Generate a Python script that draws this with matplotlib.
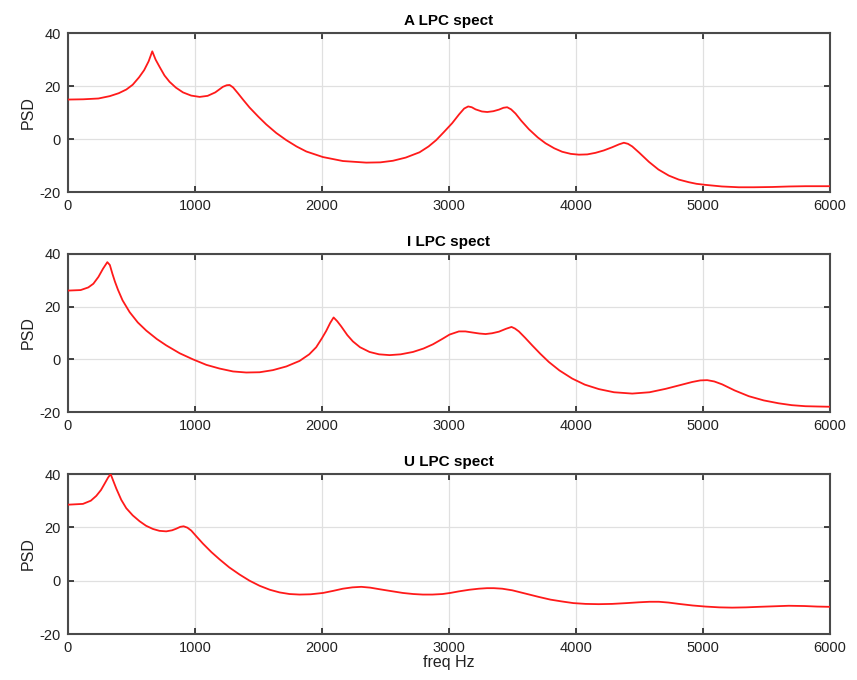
import matplotlib
matplotlib.use('Agg')
import matplotlib.pyplot as plt

BOX = '#4a4a4a'
LINE = '#ff1a1a'
GRID = '#e0e0e0'

TITLES = ['A LPC spect', 'I LPC spect', 'U LPC spect']
X_TICKS = [0, 1000, 2000, 3000, 4000, 5000, 6000]
Y_TICKS = [-20, 0, 20, 40]

# values (freq Hz, PSD)
a_freq = [0, 120, 240, 330, 400, 460, 510, 560, 600, 635, 664, 690, 722, 760,
          800, 850, 906, 970, 1037, 1100, 1160, 1220, 1250, 1273, 1300, 1340,
          1380, 1430, 1500, 1562, 1640, 1719, 1800, 1877, 2008, 2165, 2349,
          2460, 2559, 2660, 2769, 2840, 2900, 2960, 3026, 3080, 3120, 3152,
          3180, 3210, 3260, 3302, 3350, 3394, 3430, 3459, 3490, 3525, 3570,
          3630, 3700, 3761, 3830, 3892, 3960, 4024, 4090, 4155, 4220, 4286,
          4340, 4378, 4410, 4444, 4500, 4575, 4650, 4732, 4810, 4890, 4950,
          5021, 5150, 5283, 5400, 5546, 5680, 5808, 6000]
a_psd = [14.9, 15.0, 15.3, 16.2, 17.3, 18.7, 20.5, 23.3, 26.0, 29.3, 33.1,
         30.0, 27.2, 24.0, 21.6, 19.4, 17.6, 16.4, 15.9, 16.3, 17.6, 19.7,
         20.3, 20.4, 19.5, 17.2, 14.8, 11.9, 8.4, 5.5, 2.3, -0.4, -2.8, -4.7,
         -6.8, -8.3, -8.9, -8.8, -8.2, -7.0, -5.0, -2.8, -0.4, 2.6, 6.0, 9.3,
         11.5, 12.3, 12.0, 11.2, 10.4, 10.2, 10.5, 11.1, 11.8, 12.0, 11.2, 9.6,
         6.9, 3.7, 0.6, -1.6, -3.5, -4.8, -5.6, -5.9, -5.8, -5.2, -4.3, -3.1,
         -2.0, -1.4, -1.8, -2.8, -5.2, -8.6, -11.5, -13.8, -15.3, -16.3, -16.9,
         -17.3, -17.9, -18.2, -18.2, -18.1, -17.9, -17.8, -17.8]

i_freq = [0, 100, 160, 200, 240, 276, 310, 330, 350, 370, 394, 430, 486, 550,
          617, 700, 774, 880, 984, 1090, 1194, 1300, 1404, 1510, 1614, 1720,
          1824, 1900, 1955, 2000, 2034, 2065, 2092, 2120, 2152, 2200, 2244,
          2300, 2375, 2450, 2533, 2620, 2717, 2800, 2874, 2950, 3005, 3079,
          3130, 3184, 3240, 3289, 3340, 3394, 3450, 3493, 3520, 3551, 3600,
          3656, 3720, 3787, 3870, 3971, 4070, 4181, 4300, 4444, 4580, 4707,
          4820, 4916, 4980, 5034, 5090, 5152, 5250, 5362, 5480, 5598, 5700,
          5808, 5900, 6000]
i_psd = [26.1, 26.3, 27.3, 28.7, 31.3, 34.4, 36.9, 35.8, 32.5, 29.5, 26.4,
         22.4, 17.9, 14.0, 10.9, 7.7, 5.3, 2.3, 0.0, -2.1, -3.5, -4.6, -5.0,
         -4.9, -4.1, -2.7, -0.6, 1.9, 4.6, 8.0, 10.8, 13.8, 15.9, 14.5, 12.5,
         9.2, 6.8, 4.6, 2.8, 1.9, 1.6, 1.9, 2.8, 4.1, 5.7, 7.8, 9.4, 10.6,
         10.6, 10.2, 9.8, 9.6, 9.9, 10.5, 11.6, 12.3, 11.7, 10.6, 8.2, 5.3,
         2.1, -1.0, -4.2, -7.3, -9.6, -11.3, -12.5, -13.0, -12.5, -11.2, -9.8,
         -8.6, -8.0, -7.9, -8.4, -9.5, -11.8, -14.0, -15.6, -16.7, -17.4,
         -17.8, -17.9, -18.0]

u_freq = [0, 118, 180, 223, 260, 289, 315, 336, 358, 381, 420, 459, 510, 564,
          615, 669, 720, 774, 820, 853, 885, 911, 940, 971, 1010, 1063, 1130,
          1194, 1270, 1352, 1430, 1509, 1590, 1667, 1745, 1824, 1910, 2008,
          2090, 2165, 2240, 2310, 2380, 2454, 2545, 2638, 2720, 2795, 2870,
          2950, 3010, 3079, 3160, 3236, 3300, 3354, 3420, 3499, 3600, 3709,
          3800, 3892, 3980, 4076, 4180, 4286, 4400, 4496, 4580, 4654, 4730,
          4811, 4920, 5021, 5130, 5231, 5340, 5441, 5560, 5677, 5800, 5900,
          6000]
u_psd = [28.5, 28.8, 30.0, 31.8, 34.0, 36.4, 38.6, 40.0, 37.3, 34.5, 30.3,
         27.2, 24.5, 22.3, 20.6, 19.4, 18.7, 18.5, 18.9, 19.5, 20.2, 20.4,
         19.9, 18.8, 16.7, 13.9, 10.7, 8.0, 5.0, 2.3, 0.0, -1.9, -3.4, -4.4,
         -5.0, -5.2, -5.1, -4.6, -3.8, -3.0, -2.5, -2.3, -2.6, -3.2, -3.9,
         -4.6, -5.0, -5.2, -5.2, -5.0, -4.6, -4.0, -3.4, -3.0, -2.8, -2.8,
         -3.0, -3.6, -4.8, -6.1, -7.1, -7.8, -8.4, -8.7, -8.8, -8.7, -8.4,
         -8.1, -7.9, -7.9, -8.2, -8.7, -9.3, -9.7, -10.0, -10.1, -10.0, -9.8,
         -9.6, -9.4, -9.5, -9.7, -9.8]

plt.rcParams['font.family'] = ['Liberation Sans', 'DejaVu Sans']
plt.rcParams['axes.unicode_minus'] = False

fig = plt.figure(figsize=(8.57, 6.8), dpi=100, facecolor='white')

# axes rectangles in figure fractions (left, bottom, width, height)
rects = [(0.0793, 0.7176, 0.889, 0.2338),
         (0.0793, 0.3941, 0.889, 0.2324),
         (0.0793, 0.0676, 0.889, 0.2353)]
series = [(a_freq, a_psd), (i_freq, i_psd), (u_freq, u_psd)]

for k, (rect, (f, p)) in enumerate(zip(rects, series)):
    ax = fig.add_axes(rect)
    ax.plot(f, p, color=LINE, lw=1.3, zorder=3)
    ax.set_xlim(0, 6000)
    ax.set_ylim(-20, 40)
    ax.set_xticks(X_TICKS)
    ax.set_yticks(Y_TICKS)
    ax.grid(True, color=GRID, lw=0.9)
    ax.set_axisbelow(True)
    for s in ax.spines.values():
        s.set_color(BOX)
        s.set_linewidth(1.5)
    ax.tick_params(direction='in', length=4, width=1.2, color='#222222',
                   top=True, right=True, labelsize=10.5, labelcolor='#222222',
                   pad=5)
    ax.set_ylabel('PSD', fontsize=11.5, color='#222222', labelpad=3)
    ax.set_title(TITLES[k], fontsize=11, fontweight='bold', pad=6)
    if k == 2:
        ax.set_xlabel('freq Hz', fontsize=11.5, color='#222222', labelpad=0)

fig.savefig('out.png', dpi=100)
